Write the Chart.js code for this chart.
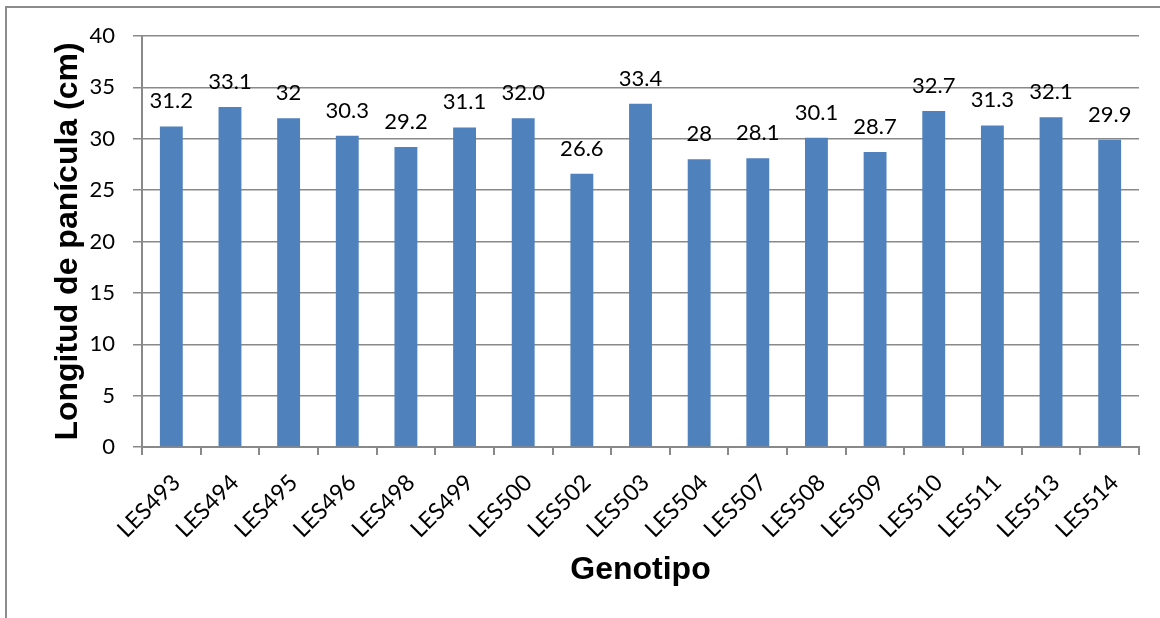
<!DOCTYPE html>
<html>
<head>
<meta charset="utf-8">
<script src="https://cdn.jsdelivr.net/npm/chart.js@4/dist/chart.umd.min.js"></script>
<style>
  html, body { margin: 0; padding: 0; background: #ffffff; }
  #wrap { position: relative; width: 1160px; height: 618px; }
</style>
</head>
<body>
<div id="wrap"><canvas id="c" width="1160" height="618"></canvas></div>
<script>
// Genotypes on the category axis
const genotipos = ['LES493', 'LES494', 'LES495', 'LES496', 'LES498', 'LES499', 'LES500', 'LES502',
  'LES503', 'LES504', 'LES507', 'LES508', 'LES509', 'LES510', 'LES511', 'LES513', 'LES514'];

// Panicle length per genotype (cm), written as it is labelled above each bar
const longitudTexto = ['31.2', '33.1', '32', '30.3', '29.2', '31.1', '32.0', '26.6',
  '33.4', '28', '28.1', '30.1', '28.7', '32.7', '31.3', '32.1', '29.9'];
const longitud = longitudTexto.map(Number);

// Value axis
const yMin = 0, yMax = 40, yStep = 5;

const tickFont = { family: 'Lato', size: 22 };
const catFont = { family: 'Lato', size: 23 };
const titleFont = { family: 'Liberation Sans', size: 32, weight: 'bold' };
const lineGray = '#898989';

// Writes the value above every bar
const etiquetas = {
  id: 'etiquetas',
  afterDatasetsDraw(chart) {
    const ctx = chart.ctx;
    const meta = chart.getDatasetMeta(0);
    ctx.save();
    ctx.fillStyle = '#000000';
    ctx.font = '22px Lato';
    ctx.textAlign = 'center';
    ctx.textBaseline = 'alphabetic';
    meta.data.forEach((bar, i) => {
      ctx.fillText(longitudTexto[i], bar.x, bar.y - 18);
    });
    ctx.restore();
  }
};

// Outer frame lines along the left and top edges
const marco = {
  id: 'marco',
  beforeDraw(chart) {
    const ctx = chart.ctx;
    ctx.save();
    ctx.strokeStyle = '#8c8c8c';
    ctx.lineWidth = 2;
    ctx.beginPath();
    ctx.moveTo(6, 618);
    ctx.lineTo(6, 7);
    ctx.lineTo(1160, 7);
    ctx.stroke();
    ctx.restore();
  }
};

new Chart(document.getElementById('c'), {
  type: 'bar',
  data: {
    labels: genotipos,
    datasets: [{
      data: longitud,
      backgroundColor: '#4f81bd',
      borderWidth: 0,
      categoryPercentage: 1,
      barPercentage: 0.39
    }]
  },
  options: {
    responsive: false,
    animation: false,
    devicePixelRatio: 1,
    layout: { padding: { top: 36, right: 21, left: 0, bottom: 0 } },
    plugins: {
      legend: { display: false },
      tooltip: { enabled: false }
    },
    scales: {
      x: {
        offset: true,
        grid: {
          offset: true,
          drawOnChartArea: false,
          drawTicks: true,
          tickLength: 8,
          color: lineGray,
          lineWidth: 2
        },
        border: { color: lineGray, width: 2 },
        ticks: {
          font: catFont,
          color: '#000000',
          minRotation: 45,
          maxRotation: 45,
          padding: 14,
          labelOffset: 5,
          autoSkip: false
        },
        title: {
          display: true,
          text: 'Genotipo',
          font: titleFont,
          color: '#000000',
          padding: { top: 0, bottom: 29 }
        },
        afterFit(scale) { scale.height = 171; }
      },
      y: {
        min: yMin,
        max: yMax,
        ticks: {
          stepSize: yStep,
          font: tickFont,
          color: '#000000',
          padding: 18
        },
        grid: {
          color: lineGray,
          lineWidth: 1.5,
          tickLength: 9
        },
        border: { color: lineGray, width: 2 },
        title: {
          display: true,
          text: 'Longitud de panícula (cm)',
          font: titleFont,
          color: '#000000',
          padding: { top: 49, bottom: 0 }
        },
        afterFit(scale) { scale.width = 142; }
      }
    }
  },
  plugins: [marco, etiquetas]
});
</script>
</body>
</html>
